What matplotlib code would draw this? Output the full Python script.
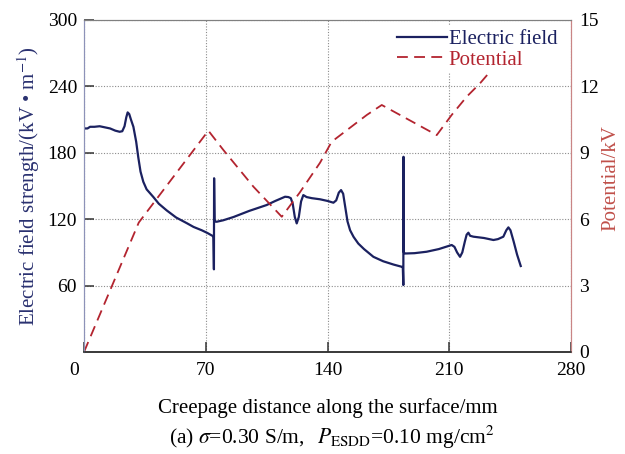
import matplotlib
matplotlib.use("Agg")
import matplotlib.pyplot as plt
import matplotlib.transforms as mtransforms

# ---- data ----
field_x = [0, 2, 3.5, 6, 9, 12, 15, 18, 20.5, 22, 23.3, 24.3, 25.1, 26, 27, 28.4, 30, 31.2,
           32.5, 34.1, 36, 39.9, 43, 47.5, 53, 59, 63, 67.7, 71, 73.8, 74.4, 74.7, 74.8, 75.1,
           76.3, 80, 86, 95, 105, 110, 115.6, 117.5, 118.9, 120, 121.2, 122.3, 123.5, 124.8,
           126.1, 128, 131, 135.7, 140, 143.4, 145, 146.5, 147.8, 149, 150.3, 151.5, 153, 155,
           157.7, 161, 166.4, 172, 178, 182.7, 183.3, 183.6, 183.7, 183.9, 184.6, 190, 197, 204,
           209, 211.4, 213, 214.5, 216.2, 217.5, 219, 220, 221, 222, 223.9, 230, 235.4, 238,
           241.1, 242.8, 244, 245.2, 247, 249, 251.1]
field_E = [202, 202, 203.5, 203.5, 204, 203, 202, 200, 199, 199.5, 204, 212, 216.5, 215, 210,
           203.5, 190, 176, 163, 153.8, 147, 140, 134, 128, 121.5, 116.5, 113, 110, 107.5, 105,
           104.5, 74.7, 157, 118, 117.7, 119, 122, 127.5, 132.8, 136.5, 140.3, 140, 139, 134, 122,
           116.2, 122, 136, 141.8, 140, 139, 138, 136.5, 134.9, 137, 144, 146.3, 143, 130, 118,
           110, 104, 98, 93, 86, 82, 79, 77, 76.5, 60.5, 176.4, 90, 89, 89.3, 90.6, 93, 95.5,
           96.7, 95, 90, 86, 90, 100, 106, 107.8, 105, 104.2, 103, 101.2, 102, 104.2, 110, 112.6,
           110, 100, 88, 77.7]

pot_x = [0, 31.5, 71.5, 80.1, 97.4, 113.7, 124, 135.7, 142.4, 162.6, 171.2, 202.8, 211.4,
         220.1, 227.7, 233.5]
pot_V = [0, 5.85, 10.0, 9.13, 7.47, 6.11, 7.2, 8.55, 9.5, 10.71, 11.16, 9.8, 10.71, 11.54,
         12.14, 12.67]

x_ticks = [0, 70, 140, 210, 280]
left_ticks = [60, 120, 180, 240, 300]
right_ticks = [0, 3, 6, 9, 12, 15]

# ---- style ----
plt.rcParams['font.family'] = ['Liberation Serif', 'DejaVu Serif']
plt.rcParams['mathtext.fontset'] = 'stix'

navy = '#1b2160'
red = '#b3242f'

fig = plt.figure(figsize=(6.25, 4.54), dpi=100)
ax = fig.add_axes([84/625, 1-352/454, (571-84)/625, (352-20)/454])
ax2 = ax.twinx()

l1, = ax.plot(field_x, field_E, color=navy, lw=1.6, label='Electric field', zorder=3)
l2, = ax2.plot(pot_x, pot_V, color=red, lw=1.3, dashes=(6, 3.5), label='Potential')

ax.set_xlim(0, 280)
ax.set_ylim(0, 300)
ax2.set_ylim(0, 15)
ax.set_xticks(x_ticks)
ax.set_yticks(left_ticks)
ax2.set_yticks(right_ticks)

ax.grid(True, color='#8c8c8c', ls=(0, (1, 1.5)), lw=0.8)

ax.tick_params(axis='both', direction='in', length=7, width=1.1, labelsize=14, color='#333333')
ax.tick_params(axis='x', pad=7)
ax.tick_params(axis='y', pad=5)
ax2.tick_params(axis='y', direction='in', length=0, labelsize=14, pad=6)

# shift "0" x label left toward the origin corner
lbl0 = ax.get_xticklabels()[0]
lbl0.set_transform(lbl0.get_transform() + mtransforms.ScaledTranslation(-10/100, 0, fig.dpi_scale_trans))

for a in (ax, ax2):
    a.spines['left'].set_color('#8d92b8')
    a.spines['right'].set_color('#c98585')
    a.spines['top'].set_color('#808080')
    a.spines['bottom'].set_color('#333333')
    a.spines['bottom'].set_linewidth(1.1)

ax.set_ylabel(r'Electric field strength/(kV • m$^{-1}$)', fontsize=15, color='#2a3170', labelpad=4)
ax2.set_ylabel('Potential/kV', fontsize=15, color='#c0504a', labelpad=2)
ax2.yaxis.label.set_y(0.525)
ax.set_xlabel('Creepage distance along the surface/mm', fontsize=15, labelpad=14)

fig.text(0.531, 1-437/454, r'(a) $\sigma$=0.30 S/m,$\;\;\;$$P_{\rm ESDD}$=0.10 mg/cm$^2$',
         ha='center', va='center', fontsize=15.5)

leg = ax2.legend(handles=[l1, l2], loc='upper right', fontsize=15, frameon=True,
                 facecolor='white', edgecolor='none', framealpha=1, handlelength=2.4,
                 handletextpad=0.1, borderpad=0.15, labelspacing=0.05,
                 bbox_to_anchor=(1.0, 1.012))
for t, c in zip(leg.get_texts(), [navy, red]):
    t.set_color(c)

fig.savefig('out.png', dpi=100, facecolor='white')
